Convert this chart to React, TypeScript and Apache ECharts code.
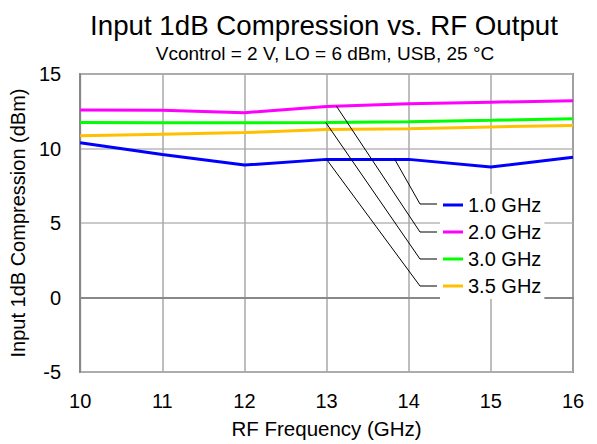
import React, { useEffect, useRef } from "react";
import * as echarts from "echarts";

const freqs = [10, 11, 12, 13, 14, 15, 16];
const seriesNames = ["1.0 GHz", "2.0 GHz", "3.0 GHz", "3.5 GHz"];
const p1G = [10.38, 9.6, 8.89, 9.27, 9.27, 8.76, 9.42];
const p2G = [12.58, 12.56, 12.4, 12.82, 13.0, 13.11, 13.2];
const p3G = [11.75, 11.73, 11.73, 11.75, 11.8, 11.89, 12.0];
const p35G = [10.85, 10.96, 11.07, 11.27, 11.33, 11.45, 11.55];
const seriesColors = ["#0000FF", "#FF00FF", "#00FF00", "#FFC000"];
// points on the curves that the leader lines point to (data coordinates)
const leaderAnchors = [
  [13.83, 9.27],
  [13.12, 12.84],
  [12.99, 11.75],
  [13.0, 9.27],
];
const yTicks = [-5, 0, 5, 10, 15];

const FONT = "'Liberation Sans', Arial, sans-serif";

export default function App() {
  const ref = useRef<HTMLDivElement>(null);
  useEffect(() => {
    if (!ref.current) return;
    const chart = echarts.init(ref.current, null, { renderer: "svg" });
    const allData = [p1G, p2G, p3G, p35G];
    chart.setOption({
      animation: false,
      backgroundColor: "#fff",
      textStyle: { fontFamily: FONT },
      title: [
        {
          text: "Input 1dB Compression vs. RF Output",
          left: 319,
          top: 6,
          textAlign: "center",
          textStyle: { fontFamily: FONT, fontSize: 27.7, fontWeight: "normal", color: "#000" },
        },
        {
          text: "Vcontrol = 2 V, LO = 6 dBm, USB, 25 °C",
          left: 320,
          top: 39,
          textAlign: "center",
          textStyle: { fontFamily: FONT, fontSize: 19, fontWeight: "normal", color: "#000" },
        },
      ],
      grid: { left: 80, right: 24, top: 74, bottom: 70, show: true, borderColor: "#888", borderWidth: 2, backgroundColor: "transparent" },
      legend: {
        orient: "vertical",
        left: 440,
        top: 194,
        padding: [1, 3, 3, 3],
        itemGap: 7,
        itemWidth: 20,
        itemHeight: 3,
        icon: "rect",
        backgroundColor: "#fff",
        data: seriesNames,
        textStyle: { fontFamily: FONT, fontSize: 20, color: "#000" },
      },
      xAxis: {
        type: "value",
        min: 10,
        max: 16,
        interval: 1,
        name: "RF Frequency (GHz)",
        nameLocation: "middle",
        nameGap: 46,
        nameTextStyle: { fontFamily: FONT, fontSize: 20.5, color: "#000" },
        axisLine: { show: true, lineStyle: { color: "#888", width: 2 } },
        axisTick: { show: false },
        axisLabel: { fontFamily: FONT, fontSize: 20, color: "#000", margin: 19 },
        splitLine: { show: true, lineStyle: { color: "#A8A8A8", width: 1.5 } },
      },
      yAxis: {
        type: "value",
        min: yTicks[0],
        max: yTicks[yTicks.length - 1],
        interval: 5,
        name: "Input 1dB Compression (dBm)",
        nameLocation: "middle",
        nameGap: 42,
        nameTextStyle: { fontFamily: FONT, fontSize: 20, color: "#000" },
        axisLine: { show: true, lineStyle: { color: "#888", width: 2 } },
        axisTick: { show: false },
        axisLabel: { fontFamily: FONT, fontSize: 20, color: "#000", margin: 19 },
        splitLine: { show: true, lineStyle: { color: "#B8B8B8", width: 1.5 } },
      },
      series: seriesNames.map((name, i) => ({
        name,
        type: "line",
        symbol: "none",
        color: seriesColors[i],
        lineStyle: { width: 3, color: seriesColors[i] },
        data: freqs.map((f, j) => [f, allData[i][j]]),
        z: 2 + (3 - i),
      })),
    });

    // leader lines from curves to the legend entries
    const legendRowY = [204, 232, 259, 286];
    const elbowX = 420;
    const endX = 437;
    const graphic = leaderAnchors.map((a, i) => {
      const p = chart.convertToPixel({ gridIndex: 0 }, a) as number[];
      return {
        type: "polyline",
        z: 100,
        shape: { points: [[p[0], p[1]], [elbowX, legendRowY[i]], [endX, legendRowY[i]]] },
        style: { stroke: "#000", lineWidth: 1, fill: null },
      };
    });
    chart.setOption({ graphic });

    return () => chart.dispose();
  }, []);
  return <div ref={ref} style={{ position: "fixed", left: 0, top: 0, width: 597, height: 444 }} />;
}
